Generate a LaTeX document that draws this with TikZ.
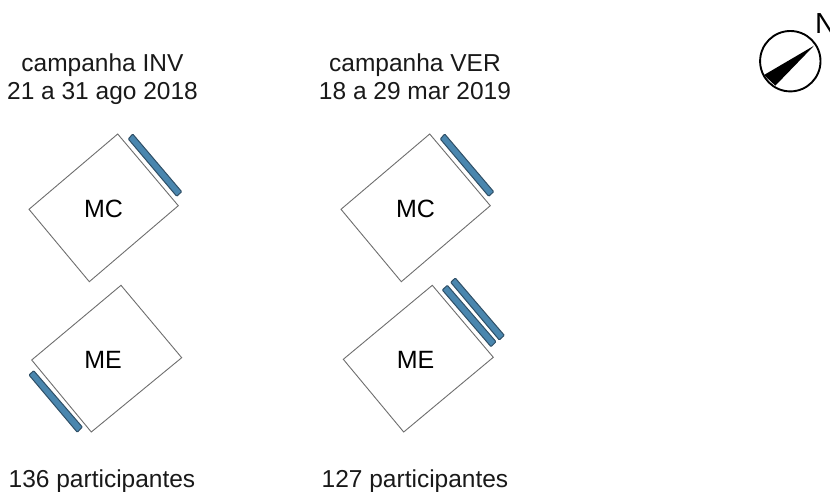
\documentclass[tikz,border=0pt]{standalone}
\usepackage{fontspec}
\setmainfont{Liberation Sans}
\definecolor{barblue}{HTML}{4A86AE}
\definecolor{bardark}{HTML}{2F4F66}
\definecolor{roomline}{HTML}{6E6E6E}
\newcommand\capstrut{\rule[-6pt]{0pt}{26pt}}
\tikzset{
  room/.style={draw=roomline,line width=0.9pt,fill=white,line join=miter},
  shade bar/.style={draw=bardark,line width=1pt,fill=barblue,rounded corners=0.8pt},
  caption/.style={inner sep=0pt,font=\fontsize{24.5}{28}\selectfont,align=center,text=black!90},
  roomlabel/.style={inner sep=0pt,font=\fontsize{25}{28}\selectfont,text=black}
}
\begin{document}
\begin{tikzpicture}[x=1pt,y=-1pt]
\path[use as bounding box] (0,0) rectangle (830,492);
\clip (0,0) rectangle (830,492);
% rooms
\draw[room] (117.7,134) -- (178.3,205.7) -- (89.3,281.7) -- (29,209.3) -- cycle;
\draw[room] (121,285.3) -- (181.7,357.7) -- (91.3,432) -- (31.7,360) -- cycle;
\draw[room] (429.7,134) -- (490.3,205.7) -- (401.3,281.7) -- (341,209.3) -- cycle;
\draw[room] (432.3,285.3) -- (493.3,357.3) -- (403.7,432) -- (343.3,359.3) -- cycle;
% shading devices
\draw[shade bar] (132.7,134) -- (128.3,139) -- (176.7,196.3) -- (181.7,191.7) -- cycle;
\draw[shade bar] (33.7,370.7) -- (29,375) -- (77.3,432.3) -- (82.3,427) -- cycle;
\draw[shade bar] (444.7,134) -- (440.3,139) -- (488.7,196.3) -- (493.7,191.7) -- cycle;
\draw[shade bar] (447.3,285.3) -- (442.3,290) -- (491,346.7) -- (496,341.7) -- cycle;
\draw[shade bar] (455.3,278) -- (450.7,282.3) -- (499.3,340) -- (504.3,335.3) -- cycle;
% labels
\node[roomlabel] (mc1) at (103.5,208.5) {MC};
\node[roomlabel] (me1) at (103,360) {ME};
\node[roomlabel] (mc2) at (415.5,208.5) {MC};
\node[roomlabel] (me2) at (415.5,360) {ME};
\node[caption] (c1) at (102.5,78.9) {\capstrut campanha INV\\\capstrut 21 a 31 ago 2018};
\node[caption] (c2) at (415,78.9) {\capstrut campanha VER\\\capstrut 18 a 29 mar 2019};
\node[caption,anchor=base] (p1) at (102,487.3) {136 participantes};
\node[caption,anchor=base] (p2) at (415,487.3) {127 participantes};
% compass
\draw[black,line width=1.9pt] (790.3,61.2) circle (30.2);
\fill[black] (814,45.7) -- (764,75) -- (775.3,85.7) -- cycle;
\node[inner sep=0pt,anchor=base west,font=\fontsize{29}{32}\selectfont] (north) at (815,34) {N};
\end{tikzpicture}
\end{document}
